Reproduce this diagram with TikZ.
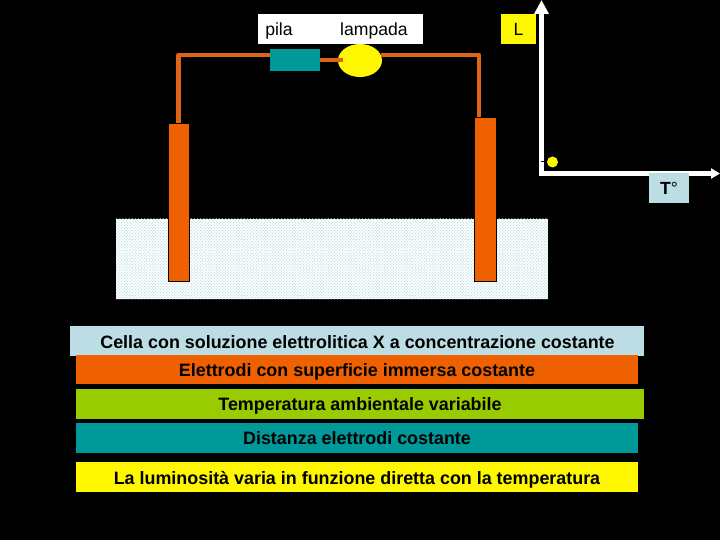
\documentclass[tikz,border=0pt]{standalone}
\usepackage{fontspec}
\setmainfont{Liberation Sans}
\usetikzlibrary{arrows.meta,shapes.geometric,patterns.meta}
\definecolor{teal1}{HTML}{009999}
\definecolor{lblue}{HTML}{BBDDE3}
\definecolor{orange1}{HTML}{EE6000}
\definecolor{wirec}{HTML}{DE6418}
\definecolor{green1}{HTML}{99CC00}
\definecolor{yel}{HTML}{FFF700}
\tikzset{
  box/.style={rectangle,draw=none,inner sep=0pt,outer sep=0pt,text=black,font=\fontsize{17.6}{20}\selectfont},
  lab/.style={box,anchor=base},
  bar/.style={box,anchor=base,font=\fontsize{17.9}{20}\selectfont\bfseries},
  wire/.style={draw=wirec,line width=4.5pt,line join=round},
  axis/.style={draw=white,line width=4.6pt,line join=miter},
  electrode/.style={rectangle,draw=black,line width=0.7pt,fill=orange1,inner sep=0pt,outer sep=0pt}
}
\begin{document}
\begin{tikzpicture}[x=1pt,y=-1pt]
\useasboundingbox (0,0) rectangle (720,540);
\fill[black] (0,0) rectangle (720,540);
% solution
\node[box,fill=white,minimum width=432pt,minimum height=80pt] (solbg) at (332,259) {};
\node[box,pattern={Dots[distance=2.2pt,radius=0.75pt,angle=45]},pattern color=lblue,minimum width=432pt,minimum height=80pt] (sol) at (332,259) {};
% top label
\node[box,fill=white,minimum width=165pt,minimum height=30pt] (top) at (340.5,29) {};
\node[lab] (lpila) at (279,36) {pila};
\node[lab] (llamp) at (374,36) {lampada};
% components
\node[box,fill=teal1,minimum width=50pt,minimum height=22pt] (pila) at (295,60) {};
\node[ellipse,draw=none,fill=yel,inner sep=0pt,outer sep=0pt,minimum width=44pt,minimum height=33pt] (lamp) at (360,60.5) {};
\node[electrode,minimum width=21pt,minimum height=158pt] (eL) at (178.5,202) {};
\node[electrode,minimum width=22pt,minimum height=164pt] (eR) at (485,199) {};
% wires
\coordinate (wl) at (270,55);
\coordinate (wr) at (381,55);
\coordinate (er) at (479,117);
\coordinate (s1) at (320,60);
\coordinate (s2) at (343,60);
\draw[wire] (eL.north) |- (wl);
\draw[wire] (wr) -| (er);
\draw[wire] (s1) -- (s2);
% graph
\node[box,fill=yel,minimum width=35pt,minimum height=30pt] (L) at (518.5,29) {};
\node[lab] (Lt) at (518.5,36) {L};
\coordinate (o) at (541.5,173.5);
\coordinate (ay) at (541.5,0);
\coordinate (ax) at (720,173.5);
\draw[axis,{Triangle[width=14pt,length=14pt]}-{Triangle[width=10pt,length=9pt]}] (ay) -- (o) -- (ax);
\node[circle,fill=yel,inner sep=0pt,outer sep=0pt,minimum size=11pt] (dot) at (552.5,162) {};
\coordinate (t) at (541,162);
\draw[black,line width=1pt] (t) -- (dot.west);
\node[box,fill=lblue,minimum width=40pt,minimum height=30pt] (T) at (669,188) {};
\node[lab] (Tt) at (669,195) {\textbf{T}°};
% bars
\node[box,fill=lblue,minimum width=574pt,minimum height=30pt] (b1) at (357,341) {};
\node[box,fill=orange1,minimum width=562pt,minimum height=29pt] (b2) at (357,369.5) {};
\node[box,fill=green1,minimum width=568pt,minimum height=30pt] (b3) at (360,404) {};
\node[box,fill=teal1,minimum width=562pt,minimum height=30pt] (b4) at (357,438) {};
\node[box,fill=yel,minimum width=562pt,minimum height=30pt] (b5) at (357,477) {};
\node[bar] (t1) at (357.5,348) {Cella con soluzione elettrolitica X a concentrazione costante};
\node[bar] (t2) at (357,376) {Elettrodi con superficie immersa costante};
\node[bar] (t3) at (360,410) {Temperatura ambientale variabile};
\node[bar] (t4) at (357,444) {Distanza elettrodi costante};
\node[bar] (t5) at (357,484) {La luminosità varia in funzione diretta con la temperatura};
\end{tikzpicture}
\end{document}
